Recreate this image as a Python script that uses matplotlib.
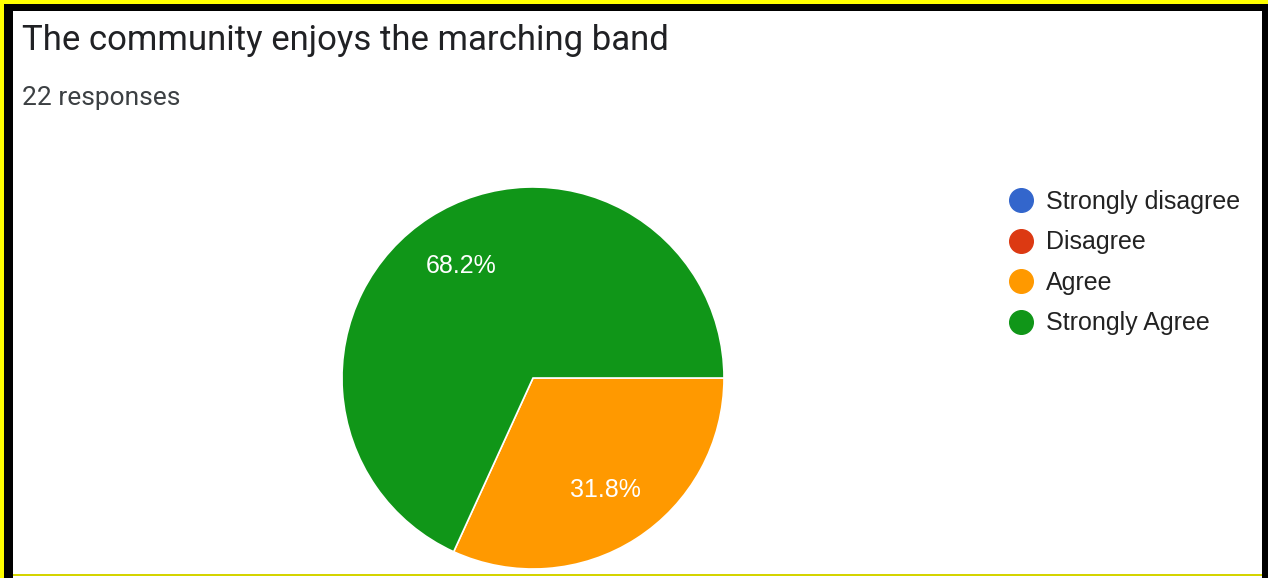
import matplotlib.pyplot as plt
from matplotlib.patches import Rectangle
from matplotlib.lines import Line2D

# survey data
title = 'The community enjoys the marching band'
n_responses = 22
labels = ['Strongly disagree', 'Disagree', 'Agree', 'Strongly Agree']
counts = [0, 0, 7, 15]
colors = ['#3366cc', '#dc3912', '#ff9900', '#109618']

W, H = 1268, 578
fig = plt.figure(figsize=(W / 100, H / 100), dpi=100)

# frame (yellow / black border of the screenshot)
bg = fig.add_axes([0, 0, 1, 1])
bg.set_xlim(0, W)
bg.set_ylim(H, 0)
bg.axis('off')
bg.add_patch(Rectangle((0, 0), W, H, color='#ffff00', lw=0))
bg.add_patch(Rectangle((4, 4), W - 4, H - 4, color='black', lw=0))
bg.add_patch(Rectangle((13, 11), 1262 - 13, H - 11, color='white', lw=0))
bg.add_patch(Rectangle((13, 573.5), 1262 - 13, 2, color='#d4d400', lw=0))

# header texts
fig.text(22 / W, 1 - 50 / H, title, fontsize=25, family='Roboto',
         color='#202124', va='baseline', ha='left')
fig.text(22 / W, 1 - 105 / H, f'{n_responses} responses', fontsize=19,
         family='Roboto', color='#3c4043', va='baseline', ha='left')

# pie - only non-zero slices get a wedge
cx, cy, r = 533, 378, 191
ax = fig.add_axes([(cx - r) / W, 1 - (cy + r) / H, 2 * r / W, 2 * r / H])
vals = [c for c in counts if c > 0]
cols = [col for c, col in zip(counts, colors) if c > 0]
ax.pie(vals, colors=cols, startangle=0, counterclock=False, radius=1,
       autopct='%1.1f%%', pctdistance=0.7,
       wedgeprops=dict(edgecolor='white', linewidth=1.2),
       textprops=dict(color='white', fontsize=18, family='Liberation Sans'))
ax.set_xlim(-1, 1)
ax.set_ylim(-1, 1)
ax.set_aspect('equal')

# legend
handles = [Line2D([], [], marker='o', linestyle='', markersize=17,
                  markerfacecolor=c, markeredgecolor=c) for c in colors]
fig.legend(handles, labels, loc='upper left',
           bbox_to_anchor=(1008.5 / W, 1 - 190 / H),
           frameon=False, borderpad=0, borderaxespad=0,
           handlelength=1.0, handletextpad=0.5, labelspacing=0.66,
           prop=dict(family='Liberation Sans', size=18), labelcolor='#222222')

fig.savefig('out.png', dpi=100)
